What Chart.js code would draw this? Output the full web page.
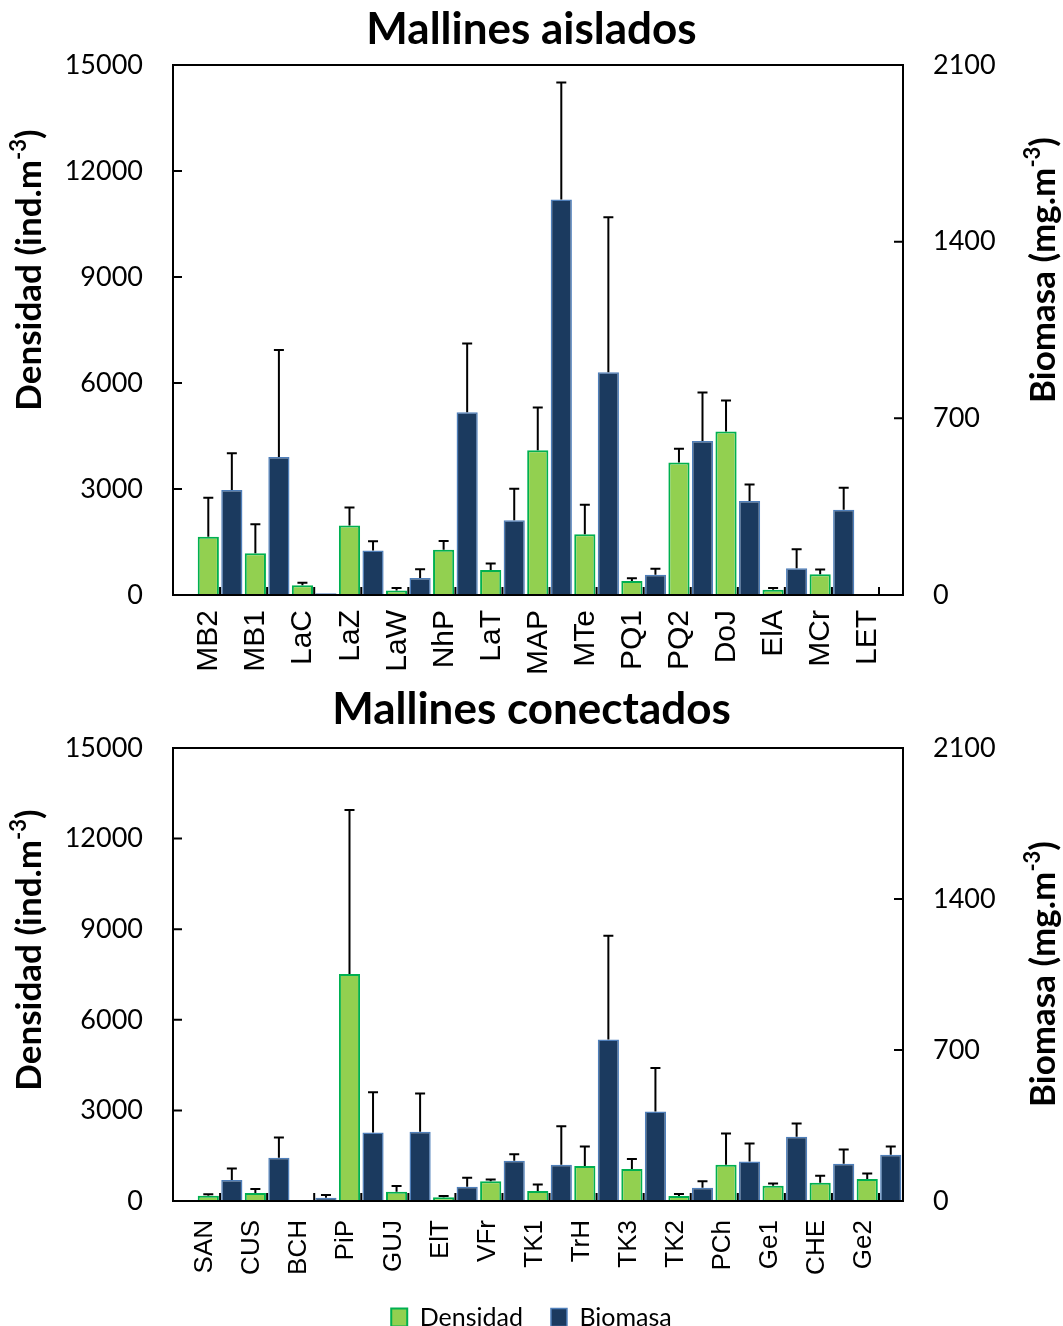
<!DOCTYPE html>
<html>
<head>
<meta charset="utf-8">
<script src="https://cdn.jsdelivr.net/npm/chart.js@4.4.1/dist/chart.umd.min.js"></script>
<style>
  body { margin: 0; background: #fff; overflow: hidden; }
  canvas { position: absolute; left: 0; }
  #aislados { top: 0; }
  #conectados { top: 683px; }
</style>
</head>
<body>
<canvas id="aislados" width="1063" height="683"></canvas>
<canvas id="conectados" width="1063" height="643"></canvas>
<script>
// Mallines aislados
const sitesTop = ['MB2', 'MB1', 'LaC', 'LaZ', 'LaW', 'NhP', 'LaT', 'MAP', 'MTe', 'PQ1', 'PQ2', 'DoJ', 'ElA', 'MCr', 'LET'];
const densTop = [1650, 1180, 275, 1965, 130, 1280, 710, 4100, 1720, 395, 3750, 4630, 150, 590, 20];
const densTopErr = [1100, 820, 70, 510, 70, 245, 185, 1210, 835, 80, 390, 875, 50, 130, 0];
const bioTop = [416, 547, 7, 176, 67, 724, 296, 1567, 883, 80, 610, 372, 106, 338, 4];
const bioTopErr = [146, 424, 0, 37, 35, 273, 125, 464, 614, 24, 192, 66, 75, 87, 0];

// Mallines conectados
const sitesBot = ['SAN', 'CUS', 'BCH', 'PiP', 'GUJ', 'ElT', 'VFr', 'TK1', 'TrH', 'TK3', 'TK2', 'PCh', 'Ge1', 'CHE', 'Ge2'];
const densBot = [176, 264, 33, 7520, 308, 121, 650, 330, 1156, 1057, 165, 1200, 506, 605, 727];
const densBotErr = [44, 132, 0, 5430, 187, 44, 66, 220, 650, 330, 66, 1035, 77, 232, 187];
const bioBot = [97, 200, 15, 318, 321, 66, 187, 168, 749, 415, 62, 183, 298, 173, 214];
const bioBotErr = [54, 94, 13, 186, 177, 42, 30, 179, 481, 202, 29, 84, 61, 66, 39];

const densTicks = [0, 15000, 3000];
const bioTicks = [0, 2100, 700];

const GREEN = '#92D050', GREEN_EDGE = '#00B050';
const NAVY = '#1B3A5F', NAVY_EDGE = '#4F7FBA';

// upward error bars from each bar top
const errorBars = {
  id: 'errorBars',
  afterDatasetsDraw(chart) {
    const ctx = chart.ctx;
    ctx.save();
    ctx.strokeStyle = '#000';
    ctx.lineWidth = 2;
    chart.data.datasets.forEach((ds, di) => {
      const meta = chart.getDatasetMeta(di);
      const sc = chart.scales[ds.yAxisID];
      meta.data.forEach((bar, i) => {
        const e = ds.errors[i];
        if (!e) return;
        const yTop = sc.getPixelForValue(ds.data[i].y + e);
        ctx.beginPath();
        ctx.moveTo(bar.x, bar.y);
        ctx.lineTo(bar.x, yTop);
        ctx.moveTo(bar.x - 5, yTop);
        ctx.lineTo(bar.x + 5, yTop);
        ctx.stroke();
      });
    });
    ctx.restore();
  }
};

// box round plot area + inward tick marks
const frame = {
  id: 'frame',
  afterDraw(chart) {
    const {ctx, chartArea: a, scales} = chart;
    ctx.save();
    ctx.strokeStyle = '#000';
    ctx.lineWidth = 2;
    ctx.strokeRect(a.left, a.top, a.right - a.left, a.bottom - a.top);
    ctx.beginPath();
    scales.y.ticks.forEach(t => {
      const p = scales.y.getPixelForValue(t.value);
      ctx.moveTo(a.left, p); ctx.lineTo(a.left + 9, p);
    });
    scales.y1.ticks.forEach(t => {
      const p = scales.y1.getPixelForValue(t.value);
      ctx.moveTo(a.right, p); ctx.lineTo(a.right - 9, p);
    });
    scales.x.ticks.forEach(t => {
      if (t.value < 0) return;
      const p = scales.x.getPixelForValue(t.value);
      ctx.moveTo(p, a.bottom); ctx.lineTo(p, a.bottom - 8);
    });
    ctx.stroke();
    ctx.restore();
  }
};

// rotated axis titles (both read bottom to top), with superscript
function drawRotated(ctx, x, y, main, sup, tail) {
  ctx.save();
  ctx.translate(x, y);
  ctx.rotate(-Math.PI / 2);
  ctx.fillStyle = '#000';
  ctx.textBaseline = 'middle';
  ctx.textAlign = 'left';
  const big = 'bold 35px Lato', small = 'bold 22px Lato';
  ctx.font = big;
  const w1 = ctx.measureText(main).width, w3 = ctx.measureText(tail).width;
  ctx.font = small;
  const w2 = ctx.measureText(sup).width;
  let cx = -(w1 + w2 + w3) / 2;
  ctx.font = big;
  ctx.fillText(main, cx, 2);
  cx += w1;
  ctx.font = small;
  ctx.fillText(sup, cx, -9);
  cx += w2;
  ctx.font = big;
  ctx.fillText(tail, cx, 2);
  ctx.restore();
}

const axisTitles = {
  id: 'axisTitles',
  afterDraw(chart, args, opts) {
    drawRotated(chart.ctx, 28, opts.leftY, 'Densidad (ind.m', '-3', ')');
    drawRotated(chart.ctx, 1042, opts.rightY, 'Biomasa (mg.m', '-3', ')');
  }
};

function makeChart(id, title, sites, dens, densErr, bio, bioErr, cfg) {
  const canvas = document.getElementById(id);
  return new Chart(canvas, {
    type: 'bar',
    data: {
      datasets: [{
        label: 'Densidad',
        data: dens.map((v, i) => ({x: i, y: v})),
        errors: densErr,
        yAxisID: 'y',
        backgroundColor: GREEN,
        borderColor: GREEN_EDGE,
        borderWidth: 2,
        barPercentage: 0.9,
        categoryPercentage: 1.0
      }, {
        label: 'Biomasa',
        data: bio.map((v, i) => ({x: i, y: v})),
        errors: bioErr,
        yAxisID: 'y1',
        backgroundColor: NAVY,
        borderColor: NAVY_EDGE,
        borderWidth: 1.5,
        barPercentage: 0.9,
        categoryPercentage: 1.0
      }]
    },
    options: {
      responsive: false,
      animation: false,
      events: [],
      layout: { padding: { left: 0, right: 0, top: 0, bottom: cfg.padBottom } },
      scales: {
        x: {
          type: 'linear',
          offset: false,
          min: -1,
          max: 14.51,
          grid: { display: false, drawTicks: false },
          border: { display: false },
          ticks: {
            stepSize: 1,
            includeBounds: false,
            autoSkip: false,
            minRotation: 90,
            maxRotation: 90,
            labelOffset: cfg.xShift,
            padding: cfg.xPad,
            color: '#000',
            font: { family: 'Liberation Sans', size: cfg.xFont },
            callback: v => sites[v] ?? ''
          },
          afterFit: s => { s.height = cfg.xHeight; }
        },
        y: {
          position: 'left',
          min: densTicks[0],
          max: densTicks[1],
          grid: { display: false, drawTicks: false },
          border: { display: false },
          ticks: { stepSize: densTicks[2], padding: 30, color: '#000', font: { family: 'Lato', size: 27 }, callback: v => String(v) },
          afterFit: s => { s.width = 173; }
        },
        y1: {
          position: 'right',
          min: bioTicks[0],
          max: bioTicks[1],
          grid: { display: false, drawTicks: false },
          border: { display: false },
          ticks: { stepSize: bioTicks[2], padding: 30, color: '#000', font: { family: 'Lato', size: 27 }, callback: v => String(v) },
          afterFit: s => { s.width = 160; }
        }
      },
      plugins: {
        title: {
          display: true,
          text: title,
          color: '#000',
          font: { family: 'Lato', size: 44, weight: 'bold', lineHeight: 1.2 },
          padding: cfg.titlePad
        },
        legend: {
          display: cfg.legend,
          position: 'bottom',
          labels: {
            color: '#000',
            font: { family: 'Lato', size: 25 },
            boxWidth: 16,
            boxHeight: 18,
            padding: 28
          }
        },
        tooltip: { enabled: false },
        axisTitles: { leftY: cfg.leftY, rightY: cfg.rightY }
      }
    },
    plugins: [errorBars, frame, axisTitles]
  });
}

makeChart('aislados', 'Mallines aislados', sitesTop, densTop, densTopErr, bioTop, bioTopErr, {
  padBottom: 0, xHeight: 88, xFont: 30, xPad: 15, xShift: -11, legend: false,
  titlePad: { top: 3.6, bottom: 8.6 }, leftY: 270, rightY: 270
});

makeChart('conectados', 'Mallines conectados', sitesBot, densBot, densBotErr, bioBot, bioBotErr, {
  padBottom: -14, xHeight: 76, xFont: 26, xPad: 19, xShift: -15, legend: true,
  titlePad: { top: 0, bottom: 12.2 }, leftY: 267, rightY: 291
});
</script>
</body>
</html>
